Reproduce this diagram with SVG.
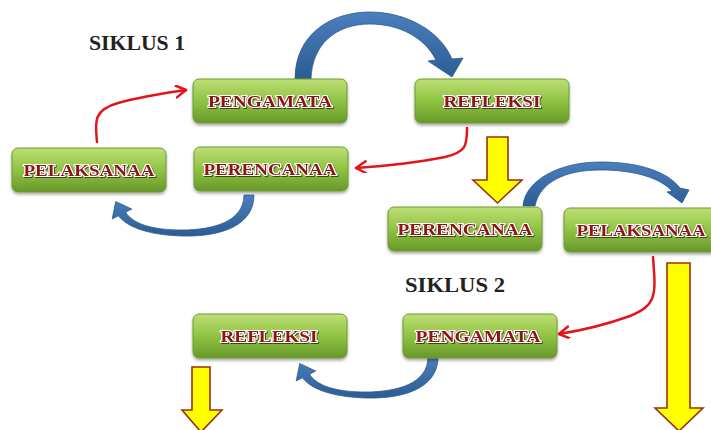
<svg xmlns="http://www.w3.org/2000/svg" width="711" height="430" viewBox="0 0 711 430">
<defs>
<linearGradient id="g" x1="0" y1="0" x2="0" y2="1">
<stop offset="0" stop-color="#bddf75"/>
<stop offset="0.5" stop-color="#90c343"/>
<stop offset="1" stop-color="#68982a"/>
</linearGradient>
<linearGradient id="b" x1="0" y1="0" x2="0" y2="1">
<stop offset="0" stop-color="#4a7fbd"/>
<stop offset="1" stop-color="#2d5c94"/>
</linearGradient>
<filter id="sh" x="-10%" y="-20%" width="120%" height="150%">
<feDropShadow dx="0" dy="2" stdDeviation="1.5" flood-color="#000" flood-opacity="0.35"/>
</filter>
<filter id="ts" x="-5%" y="-20%" width="110%" height="150%">
<feDropShadow dx="1" dy="1" stdDeviation="0.6" flood-color="#000" flood-opacity="0.6"/>
</filter>
<marker id="ra" markerUnits="userSpaceOnUse" markerWidth="14" markerHeight="14" refX="11" refY="6" orient="auto">
<path d="M1,0 L11,6 L1,12" fill="none" stroke="#e3141b" stroke-width="2.5" stroke-linecap="round" stroke-linejoin="round"/>
</marker>
</defs>
<style>
.n rect{fill:url(#g);stroke:#6f9a30;stroke-width:1;filter:url(#sh)}
.n text{font-family:"Liberation Serif",serif;font-weight:bold;font-size:17px;fill:#8a1212;stroke:#fff;stroke-width:2.2;paint-order:stroke;stroke-linejoin:round;text-anchor:middle;filter:url(#ts)}
.t{font-family:"Liberation Serif",serif;font-weight:bold;font-size:21px;fill:#222}
.red{fill:none;stroke:#e3141b;stroke-width:2.5;stroke-linecap:round;marker-end:url(#ra)}
.blue{fill:url(#b);stroke:#2c5a8e;stroke-width:0.8}
.yel{fill:#ffff00;stroke:#9a300c;stroke-width:1.6;stroke-linejoin:miter}
</style>
<text class="t" x="89" y="50" textLength="96" lengthAdjust="spacingAndGlyphs">SIKLUS 1</text>
<text class="t" x="405" y="292" textLength="100" lengthAdjust="spacingAndGlyphs">SIKLUS 2</text>
<g id="connectors">
<path class="blue" d="M295,79 C295,35 330,12 370,12 C405,12 440,30 452,59 L463,58 L452,77 L428,61 L436,60 C425,38 400,24 370,24 C335,24 312,45 311,79 Z"/>
<path class="blue" d="M254,195 C254,227 218,237 182,236 C150,235 128,228 118.4,215.8 L112.2,218.9 L115.7,201.5 L131.8,209.1 L125.6,212.2 C133,224 152,230 182,230 C212,230 244,222 244,195 Z"/>
<path class="blue" d="M523,206 C525,180 560,162 600,162 C640,162 668,172 680,188 L689,190 L682,203 L667,192 L672,191 C660,178 635,170 600,170 C565,170 540,182 535,206 Z"/>
<path class="blue" transform="translate(184,162)" d="M254,195 C254,227 218,237 182,236 C150,235 128,228 118.4,215.8 L112.2,218.9 L115.7,201.5 L131.8,209.1 L125.6,212.2 C133,224 152,230 182,230 C212,230 244,222 244,195 Z"/>
<path class="red" d="M97,142 C95,122 93,110 118,103 C140,97 165,93 186,90"/>
<path class="red" d="M467,128 C467,146 466,152 445,157 C420,162 385,166 356,168"/>
<path class="red" d="M653,257 C656,295 657,305 630,316 C605,325 585,330 559,334"/>
<path class="yel" d="M487,137 L508,137 L508,180 L522,180 L497.5,203 L473,180 L487,180 Z"/>
<path class="yel" d="M667,263 L690,263 L690,408 L703,408 L679,431 L655,408 L667,408 Z"/>
<path class="yel" d="M192,367 L210,367 L210,410 L222,410 L201,432 L182,410 L192,410 Z"/>
</g>
<g id="pengamata1" class="n"><rect x="193" y="79" width="154" height="44" rx="6"/><text x="270" y="107" textLength="124" lengthAdjust="spacingAndGlyphs">PENGAMATA</text></g>
<g id="pelaksanaa1" class="n"><rect x="12" y="148" width="154" height="44" rx="6"/><text x="89" y="176" textLength="131" lengthAdjust="spacingAndGlyphs">PELAKSANAA</text></g>
<g id="perencanaa1" class="n"><rect x="194" y="147" width="154" height="44" rx="6"/><text x="270" y="175" textLength="133" lengthAdjust="spacingAndGlyphs">PERENCANAA</text></g>
<g id="refleksi1" class="n"><rect x="415" y="79" width="154" height="44" rx="6"/><text x="492" y="107" textLength="97" lengthAdjust="spacingAndGlyphs">REFLEKSI</text></g>
<g id="perencanaa2" class="n"><rect x="388" y="207" width="154" height="44" rx="6"/><text x="465" y="235" textLength="135" lengthAdjust="spacingAndGlyphs">PERENCANAA</text></g>
<g id="pelaksanaa2" class="n"><rect x="564" y="208" width="154" height="44" rx="6"/><text x="641" y="236" textLength="129" lengthAdjust="spacingAndGlyphs">PELAKSANAA</text></g>
<g id="pengamata2" class="n"><rect x="403" y="314" width="154" height="44" rx="6"/><text x="478" y="342" textLength="125" lengthAdjust="spacingAndGlyphs">PENGAMATA</text></g>
<g id="refleksi2" class="n"><rect x="193" y="314" width="154" height="44" rx="6"/><text x="269" y="342" textLength="97" lengthAdjust="spacingAndGlyphs">REFLEKSI</text></g>
</svg>
